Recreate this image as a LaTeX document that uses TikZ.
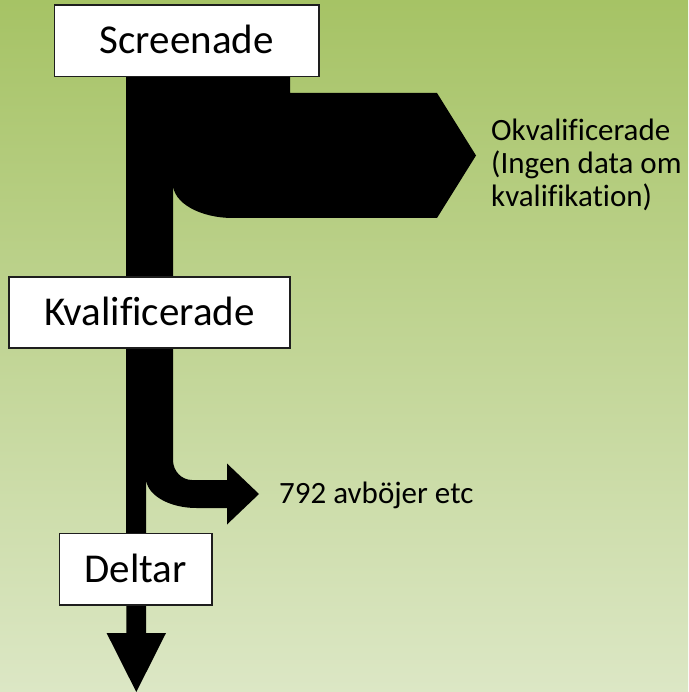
\documentclass[tikz,border=0pt]{standalone}
\usepackage{fontspec}
\setmainfont{Carlito}[Ligatures=NoCommon]
\definecolor{bgtop}{RGB}{166,195,101}
\definecolor{bgbot}{RGB}{220,231,197}
\definecolor{boxline}{RGB}{30,30,30}
\begin{document}
\begin{tikzpicture}[x=1pt,y=-1pt,
  stagebox/.style={draw=boxline,line width=1.3pt,fill=white,inner sep=0pt,
    font=\fontsize{41}{49}\selectfont,text height=26.4pt,text depth=0pt},
  flowlabel/.style={inner sep=0pt,font=\fontsize{31}{33}\selectfont,align=left},
  band/.style={fill=black,draw=none}]
\useasboundingbox (0,0) rectangle (688,692);
\shade[top color=bgtop,bottom color=bgbot] (0,0) rectangle (688,692);
% top flow (Screenade -> Kvalificerade / Okvalificerade)
\path[band] (126,76) -- (290,76) -- (290,93) -- (437,93) -- (476,155.5)
  -- (437,218) -- (233,218) arc[start angle=270,end angle=180,x radius=60,y radius=-34]
  -- (173,278) -- (126,278) -- cycle;
% middle flow (Kvalificerade -> Deltar / 792 avböjer etc)
\path[band] (126,347) -- (173,347) -- (173,460)
  arc[start angle=180,end angle=270,x radius=19,y radius=-20]
  -- (227,480) -- (227,463.5) -- (259,494) -- (227,524.5) -- (227,508)
  -- (196.5,508) arc[start angle=270,end angle=180,x radius=50.5,y radius=-30]
  -- (146,535) -- (126,535) -- cycle;
% bottom flow
\path[band] (126.4,604) -- (146,604) -- (146,633) -- (166,633) -- (136.3,692)
  -- (106.6,633) -- (126.4,633) -- cycle;
\node[stagebox,minimum width=264.5pt,minimum height=71.5pt] (scr) at (186.7,40.8) {Screenade};
\node[stagebox,minimum width=281pt,minimum height=71pt] (kval) at (149.5,312.5) {Kvalificerade};
\node[stagebox,minimum width=152.5pt,minimum height=71.3pt] (delt) at (135.8,569.2) {Deltar};
\node[flowlabel,anchor=base west] (okv) at (491,207) {Okvalificerade\\(Ingen data om\\kvalifikation)};
\node[flowlabel,anchor=base west] (avb) at (279,503.3) {792 avböjer etc};
\end{tikzpicture}
\end{document}
